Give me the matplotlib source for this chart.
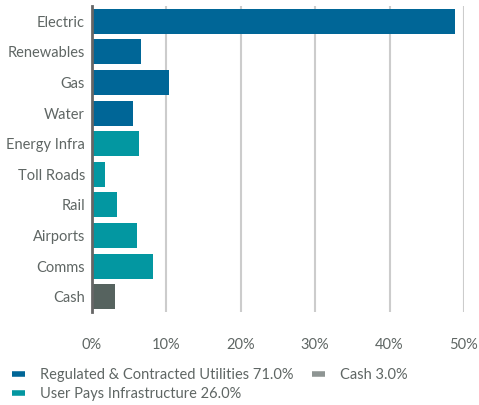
import matplotlib.pyplot as plt
from matplotlib.lines import Line2D

# sector weights (%)
sectors = ['Electric', 'Renewables', 'Gas', 'Water', 'Energy Infra',
           'Toll Roads', 'Rail', 'Airports', 'Comms', 'Cash']
weights = [48.8, 6.6, 10.4, 5.5, 6.3, 1.75, 3.3, 6.05, 8.2, 3.1]
groups = ['util', 'util', 'util', 'util', 'user',
          'user', 'user', 'user', 'user', 'cash']

legend_labels = ['Regulated & Contracted Utilities 71.0%',
                 'User Pays Infrastructure 26.0%',
                 'Cash 3.0%']
x_ticks = [0, 10, 20, 30, 40, 50]

bar_colors = {'util': '#006697', 'user': '#0397a1', 'cash': '#56635f'}
legend_colors = ['#006697', '#0397a1', '#8e9593']
txt = '#5f6664'

plt.rcParams['font.family'] = ['Lato', 'DejaVu Sans']

fig = plt.figure(figsize=(4.79, 4.05), dpi=100)
ax = fig.add_axes([92 / 479, 1 - 312 / 405, 372 / 479, 306 / 405])

ypos = list(range(len(sectors)))
ax.barh(ypos, weights, height=0.82,
        color=[bar_colors[g] for g in groups], zorder=3)
ax.set_ylim(len(sectors) - 0.5, -0.5)
ax.set_xlim(0, 50)
ax.set_yticks(ypos)
ax.set_yticklabels(sectors, fontsize=10.5, color=txt)
ax.set_xticks(x_ticks)
ax.set_xticklabels([f'{t}%' for t in x_ticks], fontsize=10.5, color=txt)
ax.tick_params(axis='both', length=0)
ax.tick_params(axis='x', pad=19)
ax.tick_params(axis='y', pad=5)

ax.grid(axis='x', color='#cccccc', linewidth=1.5, zorder=0)
for s in ['top', 'right', 'bottom']:
    ax.spines[s].set_visible(False)
ax.spines['left'].set_color('#666666')
ax.spines['left'].set_linewidth(2)
ax.spines['left'].set_zorder(4)

handles = [Line2D([0], [0], color=c, linewidth=4, solid_capstyle='butt')
           for c in legend_colors]
fig.legend(handles, legend_labels, ncol=2, frameon=False, fontsize=10.5,
           labelcolor=txt, loc='upper left', bbox_to_anchor=(0.013, 0.106),
           handlelength=0.9, handletextpad=1.0, columnspacing=1.3,
           labelspacing=0.35, borderaxespad=0.0)

fig.savefig('out.png', dpi=100)
